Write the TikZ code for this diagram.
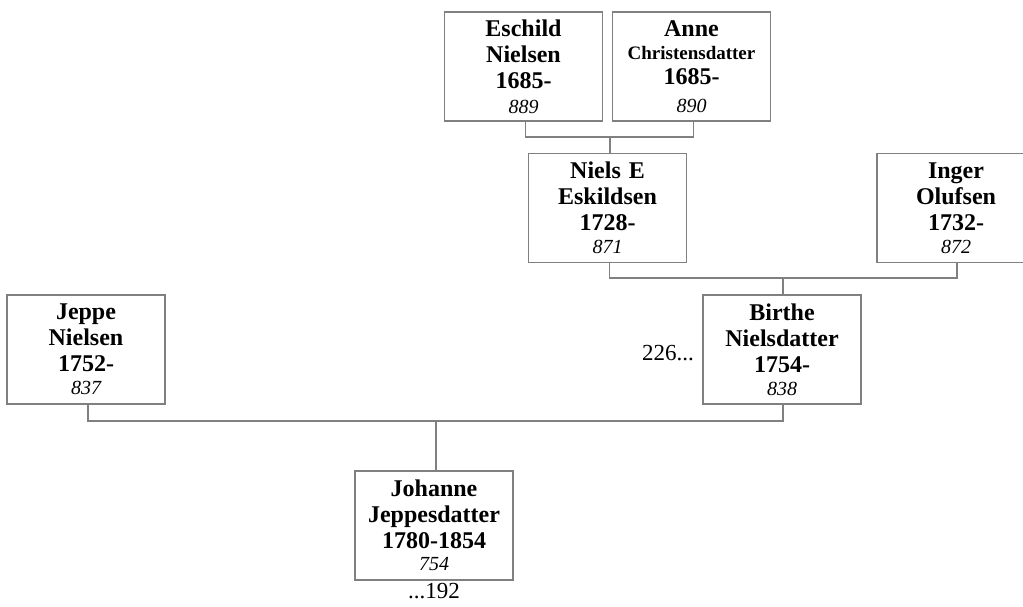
\documentclass[tikz,border=0pt]{standalone}
\usepackage{fontspec}
\setmainfont{Liberation Serif}
\begin{document}
\begin{tikzpicture}[x=1pt,y=-1pt,
  person/.style={draw=black!50, line width=1.2pt, fill=white, minimum width=158pt, minimum height=109pt,
    text width=156pt, align=center, inner sep=0pt, font=\fontsize{24}{26}\selectfont\bfseries},
  link/.style={draw=black!50, line width=1.2pt},
  ref/.style={font=\fontsize{23}{26}\selectfont, inner sep=0pt}]
\useasboundingbox (0,0) rectangle (1023,606);
\newcommand{\num}[1]{{\fontsize{20}{22}\selectfont\normalfont\itshape #1}}
\node[person] (esch) at (523.5,66.5) {Eschild\\Nielsen\\1685-\\[-1pt]\num{889}};
\node[person] (anne) at (691.5,66.5) {Anne\\[-3pt]{\fontsize{19}{24}\selectfont Christensdatter}\\[-1pt]1685-\\[2pt]\num{890}};
\node[person] (niels) at (607.5,208) {Niels E\\Eskildsen\\1728-\\[-3pt]\num{871}};
\node[person] (inger) at (956,208) {Inger\\Olufsen\\1732-\\[-3pt]\num{872}};
\node[person] (birthe) at (782,349.5) {Birthe\\Nielsdatter\\1754-\\[-3pt]\num{838}};
\node[person] (jeppe) at (86,349.5) {Jeppe\\Nielsen\\1752-\\[-3pt]\num{837}};
\node[person] (johanne) at (434,525.5) {Johanne\\Jeppesdatter\\1780-1854\\[-4pt]\num{754}};
\node[ref, anchor=east] (r226) at (694,353) {226...};
\node[ref, anchor=north] (r192) at (434,583) {...192};
\coordinate (j1) at (610,137);
\coordinate (j2) at (783,278);
\coordinate (j3) at (436,421);
\draw[link] ([xshift=2pt]esch.south) |- (j1) -| ([xshift=2pt]anne.south);
\draw[link] (j1) -- (niels.north -| j1);
\draw[link] ([xshift=2pt]niels.south) |- (j2) -| ([xshift=1pt]inger.south);
\draw[link] (j2) -- (birthe.north -| j2);
\draw[link] ([xshift=2pt]jeppe.south) |- (j3) -| ([xshift=1pt]birthe.south);
\draw[link] (j3) -- (johanne.north -| j3);
\end{tikzpicture}
\end{document}
